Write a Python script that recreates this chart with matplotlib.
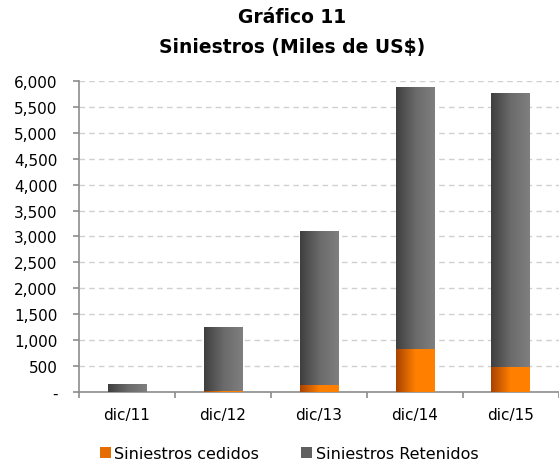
import numpy as np
import matplotlib.pyplot as plt
from matplotlib.colors import LinearSegmentedColormap
from matplotlib.patches import Patch
from matplotlib.ticker import FuncFormatter, FixedLocator

plt.rcParams['font.family'] = ['DejaVu Sans']

# Data (thousands of US$)
periodos = ['dic/11', 'dic/12', 'dic/13', 'dic/14', 'dic/15']
cedidos = [0, 10, 120, 830, 485]
retenidos = [140, 1220, 2965, 5055, 5285]

fig = plt.figure(figsize=(5.59, 4.64), dpi=100)
ax = fig.add_axes([0.1413, 0.1537, 0.858, 0.669])

x = np.arange(len(periodos))
width = 0.4

cmap_ced = LinearSegmentedColormap.from_list('ced', ['#a84400', '#ff7f00', '#ff8000'])
cmap_ret = LinearSegmentedColormap.from_list('ret', ['#3f3f3f', '#6a6a6a', '#7f7f7f'])
grad = np.linspace(0, 1, 64).reshape(1, -1)

bars_c = ax.bar(x, cedidos, width, color='none', zorder=3)
bars_r = ax.bar(x, retenidos, width, bottom=cedidos, color='none', zorder=3)

# gradient fill per bar
for bars, cmap in ((bars_c, cmap_ced), (bars_r, cmap_ret)):
    for b in bars:
        if b.get_height() <= 0:
            continue
        x0, y0 = b.get_x(), b.get_y()
        ax.imshow(grad, cmap=cmap, aspect='auto', zorder=3,
                  extent=(x0, x0 + b.get_width(), y0, y0 + b.get_height()))

ax.set_xlim(-0.5, len(periodos) - 0.5)
ax.set_ylim(0, 6000)

ax.set_yticks(np.arange(0, 6001, 500))
ax.yaxis.set_major_formatter(FuncFormatter(lambda v, p: '-' if v == 0 else f'{v:,.0f}'))
ax.yaxis.grid(True, linestyle=(0, (4, 3)), color='#d0d0d0', linewidth=1)
ax.set_axisbelow(True)

# category labels centred, tick marks at boundaries
ax.set_xticks(x)
ax.set_xticklabels(periodos)
ax.tick_params(axis='x', which='major', length=0, pad=11)
ax.xaxis.set_minor_locator(FixedLocator(np.arange(-0.5, len(periodos), 1.0)))
ax.tick_params(axis='x', which='minor', length=4.5, color='#8c8c8c', width=1.2)
ax.tick_params(axis='y', length=4.5, color='#8c8c8c', width=1.2, pad=11)
ax.tick_params(labelsize=11, labelcolor='#000000')

for s in ('top', 'right'):
    ax.spines[s].set_visible(False)
for s in ('left', 'bottom'):
    ax.spines[s].set_color('#8c8c8c')
    ax.spines[s].set_linewidth(1.2)

fig.text(0.522, 0.962, 'Gráfico 11', ha='center', va='center',
         fontsize=13.5, fontweight='bold')
fig.text(0.522, 0.898, 'Siniestros (Miles de US$)', ha='center', va='center',
         fontsize=13.5, fontweight='bold')

handles = [Patch(facecolor='#e46c00', edgecolor='none', label='Siniestros cedidos'),
           Patch(facecolor='#606060', edgecolor='none', label='Siniestros Retenidos')]
fig.legend(handles=handles, loc='center', bbox_to_anchor=(0.517, 0.02), ncol=2,
           frameon=False, fontsize=11.5, handlelength=0.72, handleheight=0.72,
           handletextpad=0.2, columnspacing=2.6)

fig.savefig('out.png', dpi=100)
